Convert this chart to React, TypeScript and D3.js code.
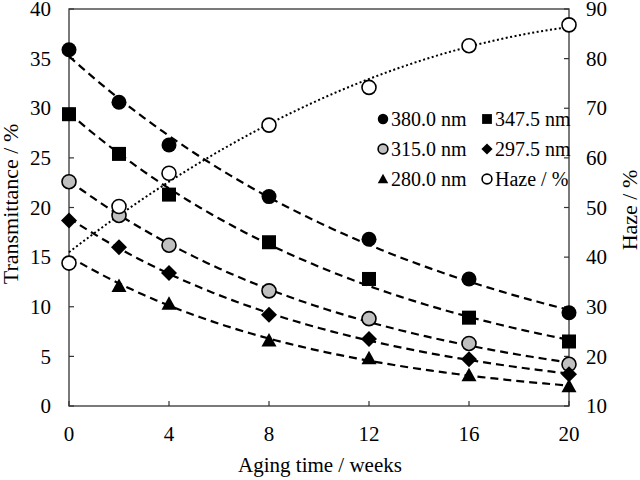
import React from "react";
import * as d3 from "d3";

const weeks = [0, 2, 4, 8, 12, 16, 20];
const t380 = [35.9, 30.6, 26.3, 21.1, 16.8, 12.8, 9.4];
const t3475 = [29.4, 25.4, 21.3, 16.5, 12.8, 8.9, 6.5];
const t315 = [22.6, 19.2, 16.2, 11.6, 8.8, 6.3, 4.2];
const t2975 = [18.7, 16.0, 13.4, 9.2, 6.75, 4.7, 3.2];
const weeks280 = [2, 4, 8, 12, 16, 20];
const t280 = [12.1, 10.3, 6.6, 4.8, 3.1, 2.0];
const haze = [38.8, 50.2, 56.9, 66.6, 74.2, 82.6, 86.8];

const xTicks = [0, 4, 8, 12, 16, 20];
const yTicks = [0, 5, 10, 15, 20, 25, 30, 35, 40];
const y2Ticks = [10, 20, 30, 40, 50, 60, 70, 80, 90];

const W = 640, H = 480;
const L = 69, R = 569, T = 9, B = 406;
const TXT = { fontFamily: "Liberation Serif" };

const x = d3.scaleLinear().domain([0, 20]).range([L, R]);
const y = d3.scaleLinear().domain([0, 40]).range([B, T]);
const y2 = d3.scaleLinear().domain([10, 90]).range([B, T]);

function expFit(xs: number[], ys: number[]) {
  const n = xs.length;
  const ly = ys.map((v) => Math.log(v));
  const mx = d3.mean(xs)!, my = d3.mean(ly)!;
  let sxy = 0, sxx = 0;
  for (let i = 0; i < n; i++) {
    sxy += (xs[i] - mx) * (ly[i] - my);
    sxx += (xs[i] - mx) ** 2;
  }
  const b = sxy / sxx;
  const a = my - b * mx;
  return (t: number) => Math.exp(a + b * t);
}

function quadFit(xs: number[], ys: number[]) {
  const S = (p: number) => d3.sum(xs, (v) => v ** p);
  const Sy = (p: number) => d3.sum(xs.map((v, i) => v ** p * ys[i]));
  const A = [
    [S(0), S(1), S(2), Sy(0)],
    [S(1), S(2), S(3), Sy(1)],
    [S(2), S(3), S(4), Sy(2)],
  ];
  for (let i = 0; i < 3; i++) {
    for (let k = i + 1; k < 3; k++) {
      const f = A[k][i] / A[i][i];
      for (let j = i; j < 4; j++) A[k][j] -= f * A[i][j];
    }
  }
  const c = [0, 0, 0];
  for (let i = 2; i >= 0; i--) {
    let s = A[i][3];
    for (let j = i + 1; j < 3; j++) s -= A[i][j] * c[j];
    c[i] = s / A[i][i];
  }
  return (t: number) => c[0] + c[1] * t + c[2] * t * t;
}

const samples = d3.range(0, 20.001, 0.25);

function fitPath(f: (t: number) => number, ys: d3.ScaleLinear<number, number>) {
  return d3
    .line<number>()
    .x((t) => x(t))
    .y((t) => ys(f(t)))(samples) as string;
}

type Shape = "circle" | "square" | "gray" | "diamond" | "triangle" | "open";

function Marker({ shape, cx, cy, s = 1 }: { shape: Shape; cx: number; cy: number; s?: number }) {
  if (shape === "circle")
    return <circle cx={cx} cy={cy} r={7.5 * s} fill="#000" />;
  if (shape === "gray")
    return <circle cx={cx} cy={cy} r={7 * s} fill="#c0c0c0" stroke="#000" strokeWidth={1.6} />;
  if (shape === "open")
    return <circle cx={cx} cy={cy} r={7 * s} fill="#fff" stroke="#000" strokeWidth={1.6} />;
  if (shape === "square") {
    const h = 7 * s;
    return <rect x={cx - h} y={cy - h} width={2 * h} height={2 * h} fill="#000" />;
  }
  if (shape === "diamond") {
    const h = 8 * s;
    return (
      <path
        d={`M${cx},${cy - h}L${cx + h},${cy}L${cx},${cy + h}L${cx - h},${cy}Z`}
        fill="#000"
      />
    );
  }
  const h = 7.5 * s;
  return (
    <path
      d={`M${cx},${cy - h}L${cx + h},${cy + h * 0.8}L${cx - h},${cy + h * 0.8}Z`}
      fill="#000"
    />
  );
}

const series = [
  { xs: weeks, ys: t380, shape: "circle" as Shape, label: "380.0 nm" },
  { xs: weeks, ys: t3475, shape: "square" as Shape, label: "347.5 nm" },
  { xs: weeks, ys: t315, shape: "gray" as Shape, label: "315.0 nm" },
  { xs: weeks, ys: t2975, shape: "diamond" as Shape, label: "297.5 nm" },
  { xs: weeks280, ys: t280, shape: "triangle" as Shape, label: "280.0 nm" },
];

const legendItems: { shape: Shape; label: string }[] = [
  { shape: "circle", label: "380.0 nm" },
  { shape: "square", label: "347.5 nm" },
  { shape: "gray", label: "315.0 nm" },
  { shape: "diamond", label: "297.5 nm" },
  { shape: "triangle", label: "280.0 nm" },
  { shape: "open", label: "Haze / %" },
];

export default function App() {
  const hazeFit = quadFit(weeks, haze);
  const axisColor = "#333";
  return (
    <svg
      width={W}
      height={H}
      style={{ position: "absolute", left: 0, top: 0, background: "#fff" }}
    >
      <rect x={0} y={0} width={W} height={H} fill="#fff" />
      <rect x={L} y={T} width={R - L} height={B - T} fill="none" stroke={axisColor} strokeWidth={1.3} />
      {yTicks.map((v) => (
        <g key={"y" + v}>
          <line x1={L} x2={L + 5} y1={y(v)} y2={y(v)} stroke={axisColor} strokeWidth={1.2} />
          <text x={51} y={y(v)} dy="0.34em" textAnchor="end" fontSize={21} style={TXT}>
            {v}
          </text>
        </g>
      ))}
      {y2Ticks.map((v) => (
        <g key={"y2" + v}>
          <line x1={R - 5} x2={R} y1={y2(v)} y2={y2(v)} stroke={axisColor} strokeWidth={1.2} />
          <text x={586} y={y2(v)} dy="0.34em" textAnchor="start" fontSize={21} style={TXT}>
            {v}
          </text>
        </g>
      ))}
      {xTicks.map((v) => (
        <g key={"x" + v}>
          <line x1={x(v)} x2={x(v)} y1={B} y2={B - 5} stroke={axisColor} strokeWidth={1.2} />
          <text x={x(v)} y={441} textAnchor="middle" fontSize={21} style={TXT}>
            {v}
          </text>
        </g>
      ))}
      <text x={320} y={472} textAnchor="middle" fontSize={21} style={TXT}>
        Aging time / weeks
      </text>
      <text
        transform={`translate(18,204) rotate(-90)`}
        textAnchor="middle"
        fontSize={22}
        style={TXT}
      >
        Transmittance / %
      </text>
      <text
        transform={`translate(637,210) rotate(-90)`}
        textAnchor="middle"
        fontSize={22}
        style={TXT}
      >
        Haze / %
      </text>
      {series.map((s) => (
        <path
          key={"f" + s.label}
          d={fitPath(expFit(s.xs, s.ys), y)}
          fill="none"
          stroke="#000"
          strokeWidth={2.2}
          strokeDasharray="8,5"
        />
      ))}
      <path
        d={fitPath(hazeFit, y2)}
        fill="none"
        stroke="#000"
        strokeWidth={2}
        strokeDasharray="2,2.5"
      />
      {series.map((s) =>
        s.xs.map((t, i) => (
          <Marker key={s.label + t} shape={s.shape} cx={x(t)} cy={y(s.ys[i])} />
        ))
      )}
      {weeks.map((t, i) => (
        <Marker key={"h" + t} shape="open" cx={x(t)} cy={y2(haze[i])} />
      ))}
      {legendItems.map((it, i) => {
        const col = i % 2;
        const row = Math.floor(i / 2);
        const mx = col === 0 ? 383 : 487;
        const my = 119 + row * 30;
        return (
          <g key={"lg" + i}>
            <Marker shape={it.shape} cx={mx} cy={my} s={0.7} />
            <text x={mx + 8} y={my + 7} fontSize={20} style={TXT}>
              {it.label}
            </text>
          </g>
        );
      })}
    </svg>
  );
}
